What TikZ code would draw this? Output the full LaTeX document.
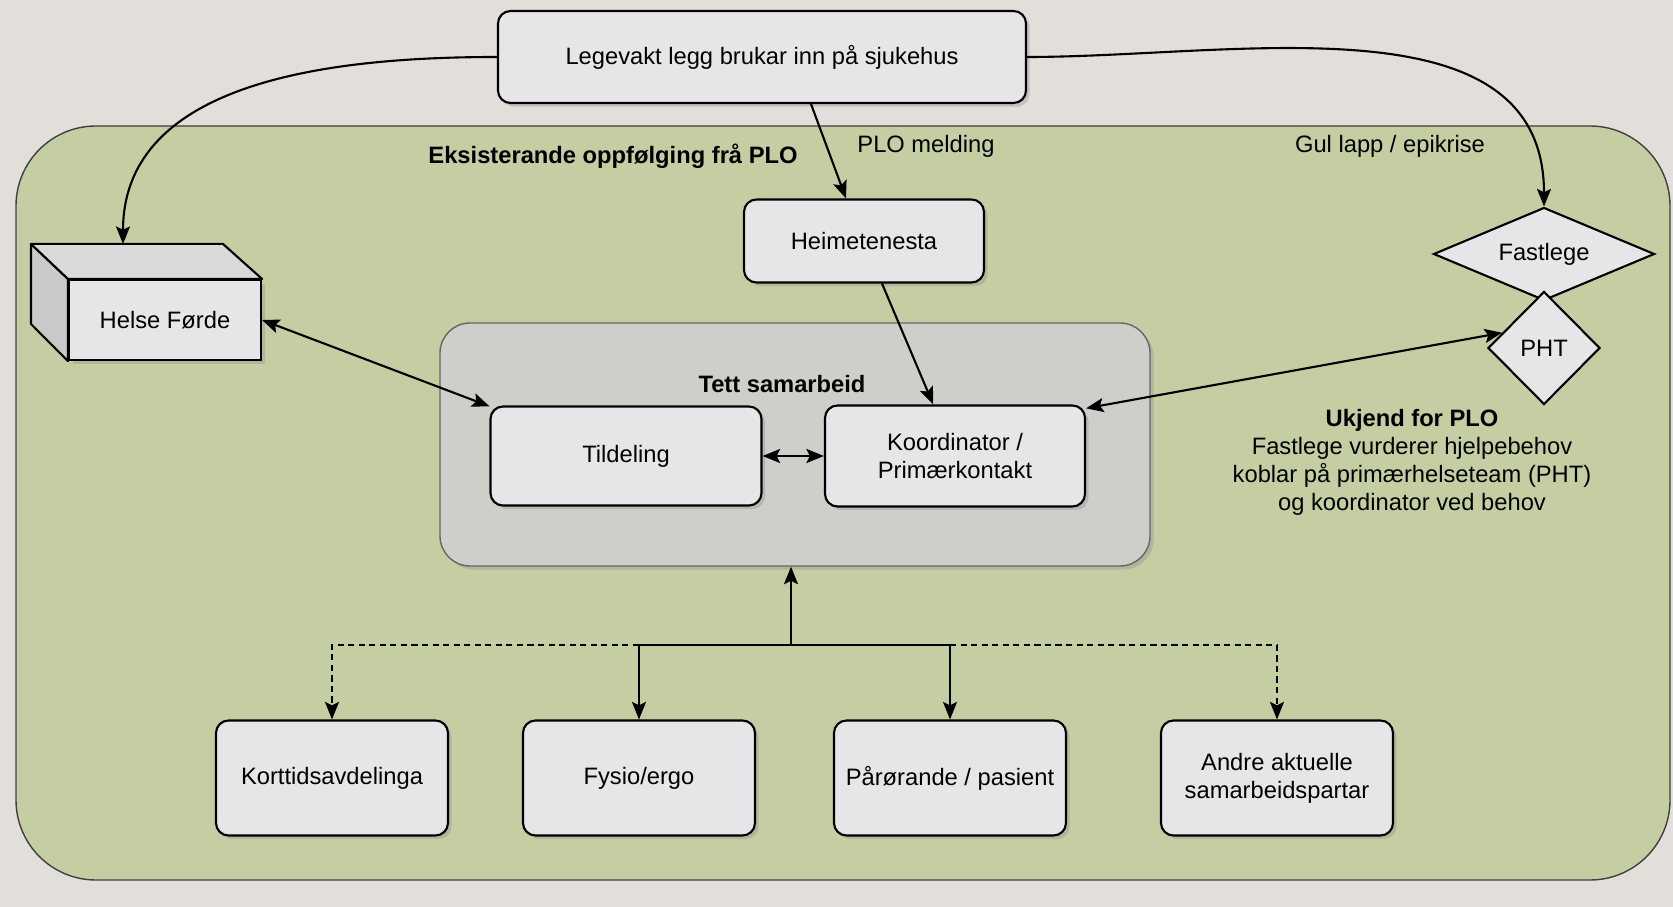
\documentclass[tikz,border=0pt]{standalone}
\usepackage{fontspec}
\setmainfont{Liberation Sans}
\usetikzlibrary{shapes.geometric, arrows.meta, shadows, positioning}
\definecolor{wall}{RGB}{226,222,217}
\definecolor{panel}{RGB}{197,206,163}
\definecolor{boxfill}{RGB}{231,229,231}
\definecolor{groupfill}{RGB}{207,206,203}
\tikzstyle{process} = [rectangle, rounded corners=0.25cm, minimum width=4.64cm, minimum height=2.3cm, text centered, align=center, draw=black, line width=1.2pt, fill=boxfill, drop shadow={shadow xshift=2pt, shadow yshift=-2pt, opacity=0.3}]
\tikzstyle{decision} = [diamond, inner sep=0pt, text centered, draw=black, line width=1.2pt, fill=boxfill]
\tikzstyle{arrow} = [line width=1.2pt,-{Stealth[length=10pt,width=8pt,inset=2pt]}]
\tikzstyle{twoway} = [line width=1.2pt,{Stealth[length=10pt,width=8pt,inset=2pt]}-{Stealth[length=10pt,width=8pt,inset=2pt]}]
\tikzstyle{dasharrow} = [arrow, dash pattern=on 3.5pt off 2.5pt]

\begin{document}
\begin{tikzpicture}[font=\fontsize{13.5}{16}\selectfont]
\useasboundingbox (0,0) rectangle (33.46,-18.14);
\fill[wall] (0,0) rectangle (33.46,-18.14);
%green panel
\draw[fill=panel, draw=black!75, line width=0.8pt, rounded corners=1.6cm] (0.32,-2.52) rectangle (33.4,-17.6);
\node(group)at(15.9,-8.89)[rectangle, rounded corners=0.6cm, minimum width=14.2cm, minimum height=4.86cm, draw=black!60, line width=0.8pt, fill=groupfill, drop shadow={shadow xshift=2pt, shadow yshift=-2pt, opacity=0.3}]{};
\node(tett)at(15.64,-7.68){\textbf{Tett samarbeid}};

%top
\node(legevakt)at(15.24,-1.14)[process, minimum width=10.56cm, minimum height=1.84cm]{Legevakt legg brukar inn på sjukehus};
\node(heim)at(17.28,-4.82)[process, minimum width=4.8cm, minimum height=1.66cm]{Heimetenesta};
\node(eksist)at(12.26,-3.12){\textbf{Eksisterande oppfølging frå PLO}};
\node(plomeld)at(18.52,-2.92){PLO melding};
\node(gul)at(27.8,-2.92){Gul lapp / epikrise};

%Helse Førde
\node(helse)at(3.3,-6.4)[process, rounded corners=0pt, minimum width=3.84cm, minimum height=1.6cm]{Helse Førde};
\draw[line width=1.2pt, fill=boxfill!88!black, line join=round] (helse.north west)--++(-0.74,0.7)--++(0,-1.6)--(helse.south west)--cycle;
\draw[line width=1.2pt, fill=boxfill!95!black, line join=round] (helse.north west)--++(-0.74,0.7)--++(3.84,0)--(helse.north east)--cycle;
\coordinate(helsetop)at([xshift=-0.84cm,yshift=0.7cm]helse.north);

%Fastlege
\node(fastlege)at(30.88,-5.08)[decision, aspect=2.4, minimum width=4.42cm, minimum height=1.86cm]{Fastlege};
\node(pht)at(30.88,-6.96)[decision, minimum width=2.24cm, minimum height=2.26cm]{PHT};
\node(ukjend)at(28.24,-8.06)[anchor=north, align=center]{\textbf{Ukjend for PLO}\\Fastlege vurderer hjelpebehov\\koblar på primærhelseteam (PHT)\\og koordinator ved behov};

%samarbeid
\node(tild)at(12.52,-9.12)[process, minimum width=5.42cm, minimum height=1.98cm]{Tildeling};
\node(koord)at(19.1,-9.12)[process, minimum width=5.2cm, minimum height=2.02cm]{Koordinator /\\Primærkontakt};

%bottom row
\node(kort)at(6.64,-15.56)[process]{Korttidsavdelinga};
\node(fysio)at(12.78,-15.56)[process]{Fysio/ergo};
\node(paar)at(19.0,-15.56)[process]{Pårørande / pasient};
\node(andre)at(25.54,-15.56)[process]{Andre aktuelle\\samarbeidspartar};
\coordinate(bus)at(15.82,-12.9);

%arrows
\draw[arrow](legevakt.west)to[out=180,in=90](helsetop);
\draw[arrow](legevakt.east)to[out=0,in=90](fastlege.north);
\draw[arrow]([xshift=0.98cm]legevakt.south)--([xshift=-0.36cm]heim.north);
\draw[arrow](heim)--(koord);
\draw[twoway](helse.east)--(tild.160);
\draw[twoway](tild)--(koord);
\draw[twoway](koord.20)--(pht.160);
\draw[arrow](bus)--(group.south -| bus);
\draw[arrow](bus)-|(fysio.north);
\draw[arrow](bus)-|(paar.north);
\draw[dasharrow](fysio.north|-bus)-|(kort.north);
\draw[dasharrow](paar.north|-bus)-|(andre.north);
\end{tikzpicture}
\end{document}
